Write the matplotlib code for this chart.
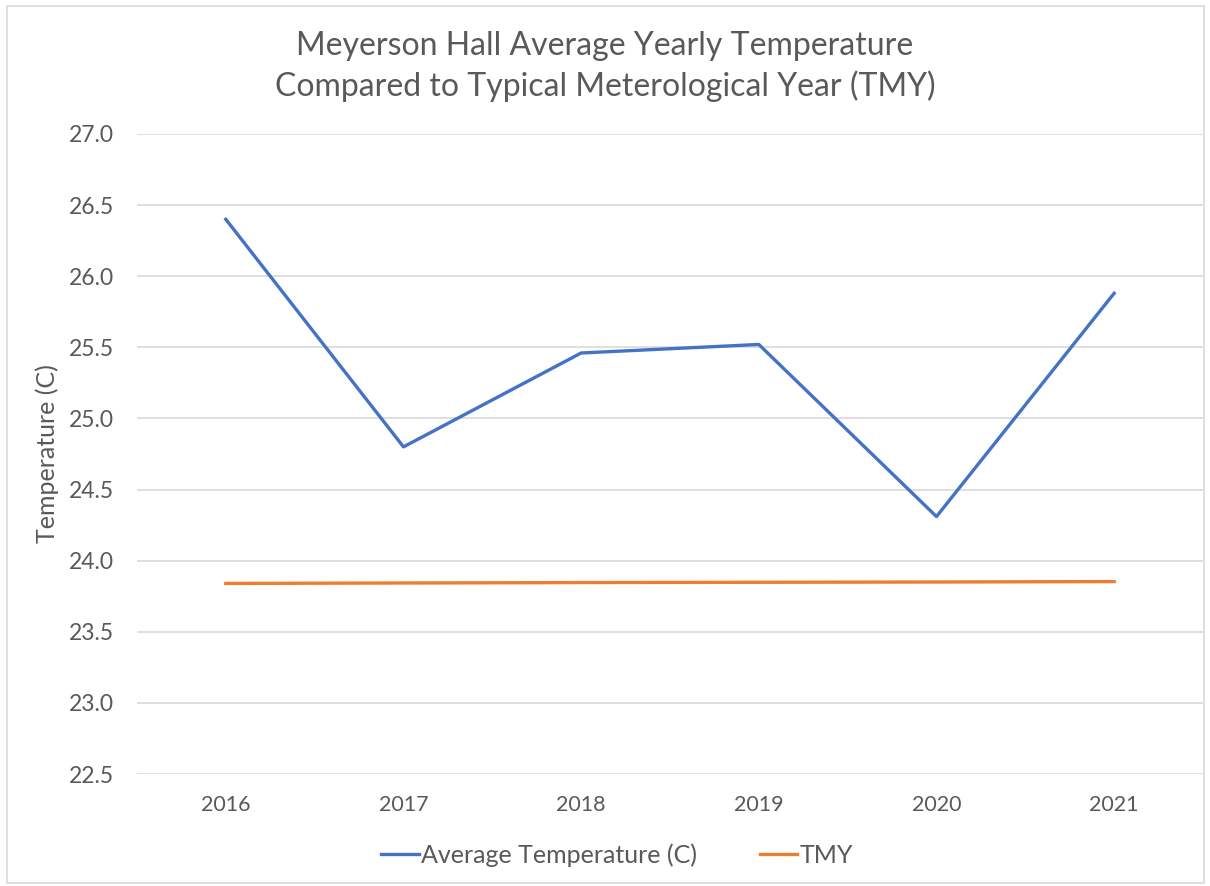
import matplotlib.pyplot as plt
from matplotlib.patches import Rectangle

plt.rcParams['font.family'] = ['Lato', 'DejaVu Sans']

# data
years = ['2016', '2017', '2018', '2019', '2020', '2021']
avg_temp = [26.40, 24.80, 25.46, 25.52, 24.31, 25.88]
tmy = [23.84, 23.843, 23.846, 23.848, 23.85, 23.853]

text_color = '#595959'

fig = plt.figure(figsize=(12.1, 8.86), dpi=100)
ax = fig.add_axes([0.1132, 0.1264, 0.881, 0.7224])

x = range(len(years))
ax.plot(x, avg_temp, color='#4472C4', linewidth=2.4, label='Average Temperature (C)')
ax.plot(x, tmy, color='#ED7D31', linewidth=2.4, label='TMY')

ax.set_xlim(-0.5, len(years) - 0.5)
ax.set_ylim(22.5, 27.0)
ax.set_yticks([22.5 + 0.5 * i for i in range(10)])
ax.set_yticklabels([f'{22.5 + 0.5 * i:.1f}' for i in range(10)])
ax.set_xticks(list(x))
ax.set_xticklabels(years)

ax.grid(axis='y', color='#D9D9D9', linewidth=1.2)
ax.set_axisbelow(True)
for s in ax.spines.values():
    s.set_visible(False)
ax.tick_params(axis='y', length=0, labelsize=16.5, colors=text_color, pad=16.5)
ax.tick_params(axis='x', length=0, labelsize=15.5, colors=text_color, pad=15)

ax.set_ylabel('Temperature (C)', fontsize=18, color=text_color, labelpad=7)

fig.text(0.5, 0.925, 'Meyerson Hall Average Yearly Temperature\nCompared to Typical Meterological Year (TMY)',
         ha='center', va='center', fontsize=23, color=text_color, linespacing=1.4)

fig.legend(loc='center', bbox_to_anchor=(0.51, 0.035), ncol=2, frameon=False,
           fontsize=18, labelcolor=text_color, handlelength=1.5, handletextpad=0.1,
           columnspacing=2.5)

fig.patches.append(Rectangle((0.006, 0.003), 0.989, 0.99, transform=fig.transFigure,
                             fill=False, edgecolor='#D9D9D9', linewidth=1.2))

fig.savefig('out.png', dpi=100)
